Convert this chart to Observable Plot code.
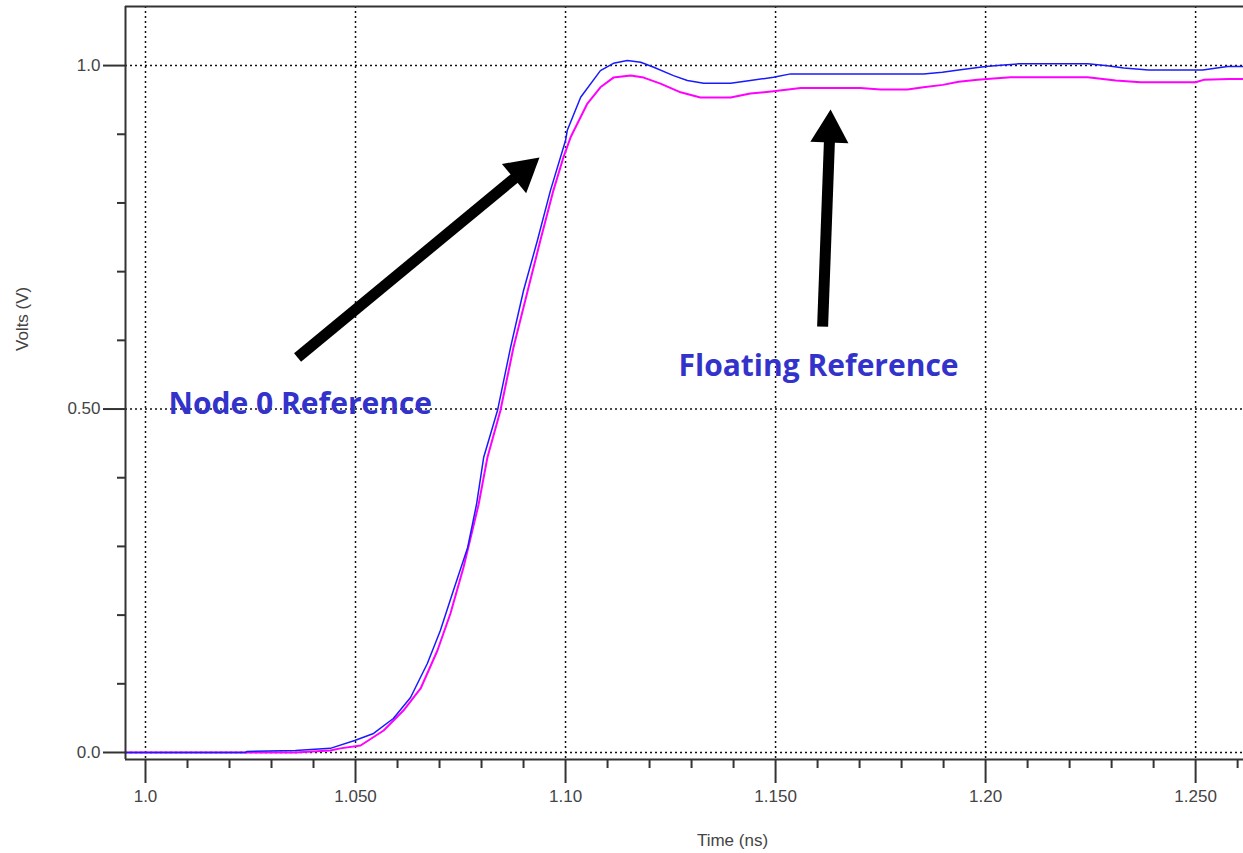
<!DOCTYPE html>
<html><head><meta charset="utf-8">
<script src="https://cdn.jsdelivr.net/npm/d3@7"></script>
<script src="https://cdn.jsdelivr.net/npm/@observablehq/plot@0.6"></script>
<style>html,body{margin:0;padding:0;background:#fff;} #chart svg{display:block;overflow:visible}</style>
</head><body><div id="chart"></div>
<script>
// ---- data (time in ns, volts) ----
const blueTrace = [
  [0.9952,0],[1.0238,0],[1.0241,0.0015],[1.0357,0.003],[1.0440,0.006],[1.0498,0.0175],
  [1.0543,0.0277],[1.0590,0.0495],[1.0631,0.080],[1.0671,0.1296],[1.0702,0.1776],
  [1.0733,0.2358],[1.0767,0.2984],[1.0788,0.361],[1.0805,0.4294],[1.0838,0.4978],
  [1.0869,0.5895],[1.0900,0.6725],[1.0933,0.7453],[1.0964,0.818],[1.1000,0.8908],
  [1.1004,0.9054],[1.1036,0.9539],[1.1083,0.9927],[1.1114,1.0033],[1.1147,1.0073],
  [1.1179,1.0048],[1.1210,0.9975],[1.1257,0.9854],[1.1290,0.9782],[1.1329,0.9742],
  [1.1393,0.9742],[1.1440,0.9782],[1.1495,0.9830],[1.1536,0.9879],[1.1852,0.9879],
  [1.1897,0.9902],[1.1936,0.9937],[1.2000,0.9985],[1.2036,1.0004],[1.2079,1.0025],
  [1.2243,1.0025],[1.2290,0.9996],[1.2329,0.9966],[1.2388,0.9937],[1.2517,0.9937],
  [1.2576,0.9985],[1.2614,0.9985]
];
const magentaTrace = [
  [0.9952,0],[1.0357,0],[1.0440,0.003],[1.0464,0.006],[1.0512,0.0102],[1.0567,0.032],
  [1.0614,0.0611],[1.0655,0.0932],[1.0695,0.1485],[1.0726,0.2023],[1.0757,0.2693],
  [1.0793,0.361],[1.0814,0.4294],[1.0845,0.4978],[1.0876,0.5895],[1.0910,0.6725],
  [1.0940,0.7453],[1.0971,0.818],[1.0995,0.8665],[1.1012,0.8956],[1.1052,0.9447],
  [1.1083,0.9684],[1.1114,0.9825],[1.1155,0.9854],[1.1186,0.9825],[1.1226,0.9738],
  [1.1274,0.9611],[1.1321,0.9534],[1.1393,0.9534],[1.1440,0.9592],[1.1495,0.9626],
  [1.1560,0.9675],[1.1702,0.9675],[1.1750,0.9651],[1.1814,0.9651],[1.1852,0.9684],
  [1.1898,0.9719],[1.1936,0.9763],[1.1981,0.9792],[1.2019,0.9811],[1.2060,0.9830],
  [1.2243,0.9830],[1.2310,0.9782],[1.2369,0.9757],[1.2500,0.9757],[1.2519,0.9792],
  [1.2579,0.9806],[1.2614,0.9806]
];
const xDomain = [0.99524, 1.2614];
const yDomain = [-0.0102, 1.086];
const xMajor = [1.0, 1.05, 1.10, 1.15, 1.20, 1.25];
const xTickLabels = ["1.0", "1.050", "1.10", "1.150", "1.20", "1.250"];
const xMinor = [1.01,1.02,1.03,1.04,1.06,1.07,1.08,1.09,1.11,1.12,1.13,1.14,1.16,1.17,1.18,1.19,1.21,1.22,1.23,1.24,1.26];
const yMajor = [0, 0.5, 1.0];
const yTickLabels = ["0.0", "0.50", "1.0"];
const yMinor = [0.1,0.2,0.3,0.4,0.6,0.7,0.8,0.9];
const xAxisLabel = "Time (ns)";
const yAxisLabel = "Volts (V)";
const annotationLabels = [
  {text: "Node 0 Reference", t: 1.0055, v: 0.5074},
  {text: "Floating Reference", t: 1.1269, v: 0.5627}
];
const arrows = [
  {t0: 1.0362, v0: 0.575, t1: 1.0938, v1: 0.866},
  {t0: 1.1612, v0: 0.620, t1: 1.1631, v1: 0.936}
];

// ---- layout ----
const W = 1243, H = 853, mL = 125, mR = 0, mT = 6, mB = 94;
const sx = Plot.scale({x: {domain: xDomain, range: [mL, W - mR]}});
const sy = Plot.scale({y: {domain: yDomain, range: [H - mB, mT]}});

// arrow geometry via scales
const yHalf = 11; // triangle inner radius (px)
const dotR = Math.sqrt(3 * Math.sqrt(3) * yHalf * yHalf / Math.PI);
const shafts = [], heads = [];
for (const a of arrows) {
  const x0 = sx.apply(a.t0), y0 = sy.apply(a.v0), x1 = sx.apply(a.t1), y1 = sy.apply(a.v1);
  const len = Math.hypot(x1 - x0, y1 - y0), ux = (x1 - x0) / len, uy = (y1 - y0) / len;
  const bx = x1 - ux * (3 * yHalf - 3), by = y1 - uy * (3 * yHalf - 3);
  shafts.push({x1: a.t0, y1: a.v0, x2: sx.invert(bx), y2: sy.invert(by)});
  const cx = x1 - ux * 2 * yHalf, cy = y1 - uy * 2 * yHalf;
  heads.push({x: sx.invert(cx), y: sy.invert(cy), rot: Math.atan2(uy, ux) * 180 / Math.PI + 90});
}

const grid = {stroke: "#111", strokeOpacity: 1, strokeWidth: 1.5, strokeDasharray: "2,3"};
const frameStyle = {stroke: "#333", strokeWidth: 2};
const axisStyle = {stroke: "#333", fill: "#444", label: null};

const chart = Plot.plot({
  width: W, height: H,
  marginLeft: mL, marginRight: mR, marginTop: mT, marginBottom: mB,
  style: {fontFamily: "'Liberation Sans', Arial, sans-serif", fontSize: "17px", background: "#fff", color: "#444"},
  x: {domain: xDomain},
  y: {domain: yDomain},
  marks: [
    Plot.ruleX(xMajor, grid),
    Plot.ruleY(yMajor, grid),
    Plot.line(magentaTrace, {x: d => d[0], y: d => d[1], stroke: "#ff00ff", strokeWidth: 2}),
    Plot.line(blueTrace, {x: d => d[0], y: d => d[1], stroke: "#1a1aff", strokeWidth: 1.5}),
    Plot.ruleX([xDomain[0]], frameStyle),
    Plot.ruleY([yDomain[0]], frameStyle),
    Plot.ruleY([yDomain[1]], frameStyle),
    Plot.axisX(xMajor, {...axisStyle, tickSize: 24, tickPadding: 6, strokeWidth: 2,
      tickFormat: d => xTickLabels[xMajor.indexOf(d)]}),
    Plot.axisX(xMinor, {...axisStyle, tickSize: 9, strokeWidth: 2, tickFormat: () => ""}),
    Plot.axisY(yMajor, {...axisStyle, tickSize: 22, tickPadding: 3, strokeWidth: 2,
      tickFormat: d => yTickLabels[yMajor.indexOf(d)]}),
    Plot.axisY(yMinor, {...axisStyle, tickSize: 8, strokeWidth: 2, tickFormat: () => ""}),
    Plot.text([xAxisLabel], {frameAnchor: "bottom", dx: 48, dy: 86, fill: "#444", fontSize: 17}),
    Plot.text([yAxisLabel], {frameAnchor: "left", dx: -103, dy: -32, rotate: -90, fill: "#444", fontSize: 17}),
    Plot.link(shafts, {x1: "x1", y1: "y1", x2: "x2", y2: "y2", stroke: "#000", strokeWidth: 11, strokeLinecap: "butt"}),
    Plot.dot(heads, {x: "x", y: "y", r: dotR, symbol: "triangle", rotate: "rot", fill: "#000", stroke: "none"}),
    Plot.text(annotationLabels, {x: "t", y: "v", text: "text", textAnchor: "start", lineAnchor: "middle",
      fontSize: 30, fontWeight: "bold", fontFamily: "'Open Sans', Lato, sans-serif", fill: "#3333cc"})
  ]
});
document.getElementById("chart").appendChild(chart);
</script></body></html>
